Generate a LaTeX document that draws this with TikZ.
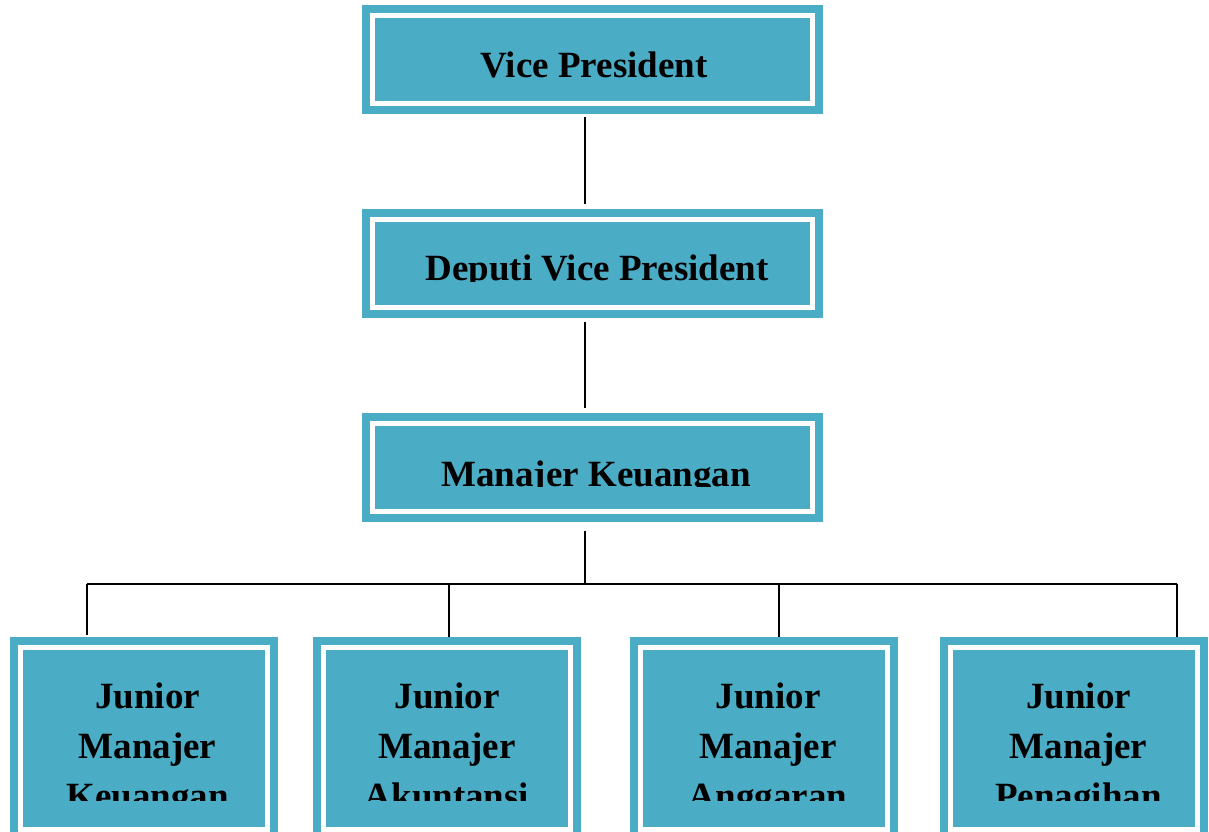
\documentclass[tikz,border=0pt]{standalone}
\usepackage{fontspec}
\setmainfont{Liberation Serif}
\definecolor{boxteal}{RGB}{75,172,198}
\tikzset{
  framebox/.style={rectangle, fill=boxteal, draw=none, inner sep=0pt, outer sep=0pt,
    path picture={\draw[white, line width=3.4pt]
      ([xshift=7.9pt,yshift=-7.9pt]path picture bounding box.north west) rectangle
      ([xshift=-7.9pt,yshift=7.9pt]path picture bounding box.south east);}},
  topbox/.style={framebox, minimum width=345.75pt, minimum height=81.75pt},
  botbox/.style={framebox, minimum width=201pt, minimum height=152.25pt},
  lbl/.style={font=\bfseries\fontsize{27.75pt}{37.5pt}\selectfont, inner sep=0pt, anchor=base, text=black},
  conn/.style={draw=black, line width=1.5pt}
}
\begin{document}
\begin{tikzpicture}[x=0.75pt,y=-0.75pt]
\useasboundingbox (0,0) rectangle (1209,831);
\clip (0,0) rectangle (1209,831);
\fill[white] (0,0) rectangle (1209,831);
% boxes
\node[topbox] (vp)  at (592.5,59.5) {};
\node[topbox] (dvp) at (592.5,263.5) {};
\node[topbox] (mk)  at (592.5,467.5) {};
\node[botbox] (j1) at (144,738.5) {};
\node[botbox] (j2) at (447,738.5) {};
\node[botbox] (j3) at (764,738.5) {};
\node[botbox] (j4) at (1074,738.5) {};
% texts
\node[lbl] (tvp) at (594,78) {Vice President};
\begin{scope}
  \clip (362,209) rectangle (823,281.5);
  \node[lbl] (tdvp) at (597,280) {Deputi Vice President};
\end{scope}
\begin{scope}
  \clip (362,413) rectangle (823,486.5);
  \node[lbl] (tmk) at (596,486) {Manajer Keuangan};
\end{scope}
\begin{scope}
  \clip (0,637) rectangle (1209,800);
  \node[lbl] (tj1) at (147.5,708) {\begin{tabular}[t]{@{}c@{}}Junior\\Manajer\\Keuangan\end{tabular}};
  \node[lbl] (tj2) at (447,708) {\begin{tabular}[t]{@{}c@{}}Junior\\Manajer\\Akuntansi\end{tabular}};
  \node[lbl] (tj3) at (768,708) {\begin{tabular}[t]{@{}c@{}}Junior\\Manajer\\Anggaran\end{tabular}};
  \node[lbl] (tj4) at (1078.5,708) {\begin{tabular}[t]{@{}c@{}}Junior\\Manajer\\Penagihan\end{tabular}};
\end{scope}
% connectors
\coordinate (jn) at (585,583.5);
\coordinate (d1) at (87,583.5);
\coordinate (d2) at (449,583.5);
\coordinate (d3) at (779,583.5);
\coordinate (d4) at (1177,583.5);
\draw[conn, shorten <=2.5pt, shorten >=3.5pt] (vp.south -| jn) -- (dvp.north -| jn);
\draw[conn, shorten <=3pt, shorten >=3.5pt] (dvp.south -| jn) -- (mk.north -| jn);
\draw[conn, shorten <=6.5pt] (mk.south -| jn) -- (jn);
\draw[conn] (d1) -- (d4);
\draw[conn, shorten >=1.5pt] (d1) -- (d1 |- j1.north);
\draw[conn] (d2) -- (d2 |- j2.north);
\draw[conn] (d3) -- (d3 |- j3.north);
\draw[conn] (d4) -- (d4 |- j4.north);
\end{tikzpicture}
\end{document}
